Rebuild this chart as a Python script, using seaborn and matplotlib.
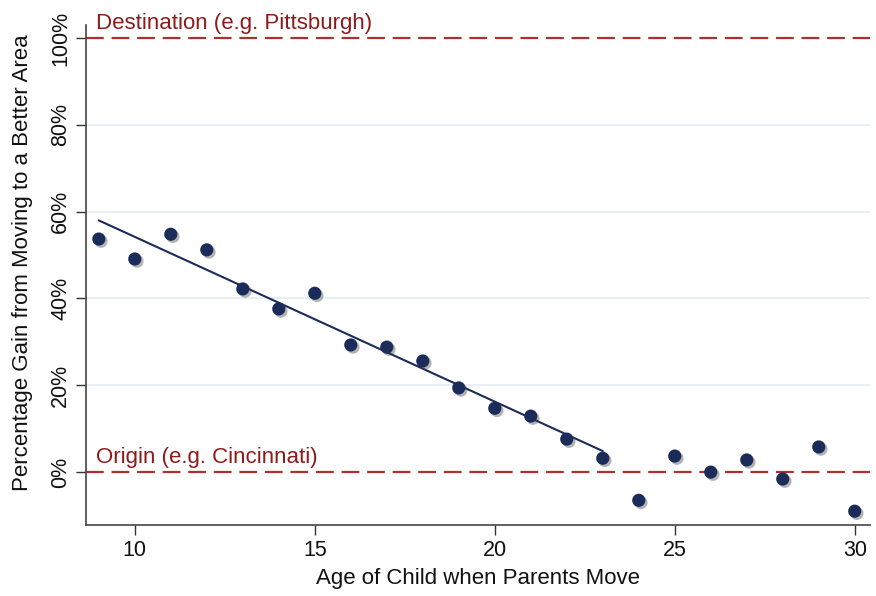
import matplotlib
matplotlib.use("Agg")
import matplotlib.pyplot as plt
import matplotlib.patheffects as pe
import seaborn as sns
import pandas as pd
from matplotlib.ticker import FuncFormatter

ages = [9, 10, 11, 12, 13, 14, 15, 16, 17, 18, 19, 20, 21, 22, 23, 24, 25, 26, 27, 28, 29, 30]
gains = [53.7, 49.1, 54.8, 51.2, 42.2, 37.6, 41.2, 29.3, 28.8, 25.6, 19.4, 14.7, 12.9, 7.6, 3.2,
         -6.5, 3.7, 0.0, 2.8, -1.6, 5.8, -9.0]
fit_max_age = 23
x_ticks = [10, 15, 20, 25, 30]
y_ticks = [0, 20, 40, 60, 80, 100]
ref_levels = [100, 0]
ref_labels = ["Destination (e.g. Pittsburgh)", "Origin (e.g. Cincinnati)"]

df = pd.DataFrame({"age": ages, "gain": gains})
fit_df = df[df["age"] <= fit_max_age]

sns.set_theme(style="white")
plt.rcParams["font.family"] = ["Liberation Sans", "DejaVu Sans"]

navy = "#1b2c5a"
red = "#a8322d"
txt_red = "#8e1b1b"

fig = plt.figure(figsize=(8.76, 5.96), dpi=100)
ax = fig.add_axes([0.098, 0.119, 0.895, 0.839])

for yv in [20, 40, 60, 80]:
    ax.axhline(yv, color="#e3eff3", lw=1.2, zorder=0)

for lvl, lab in zip(ref_levels, ref_labels):
    ax.axhline(lvl, color=red, lw=1.6, dashes=(8, 3.5), zorder=1)
    ax.text(8.92, lvl + 0.9, lab, color=txt_red, fontsize=16, ha="left", va="bottom")

sns.regplot(data=fit_df, x="age", y="gain", scatter=False, ci=None, ax=ax,
            line_kws={"color": navy, "lw": 1.5, "zorder": 2})

sns.scatterplot(data=df, x="age", y="gain", ax=ax, color=navy, s=90, edgecolor="none",
                zorder=3)
for coll in ax.collections:
    coll.set_path_effects([pe.SimplePatchShadow(offset=(1.6, -1.6), shadow_rgbFace="#444444", alpha=0.4),
                           pe.Normal()])

ax.set_xlim(8.64, 30.42)
ax.set_ylim(-12.2, 103)
ax.set_xticks(x_ticks)
ax.set_yticks(y_ticks)
ax.yaxis.set_major_formatter(FuncFormatter(lambda v, p: f"{int(v)}%"))
ax.tick_params(axis="both", which="both", direction="out", length=7, width=1.0,
               color="#333333", labelsize=15.5, labelcolor="#111111", left=True, bottom=True)
for lab in ax.get_yticklabels():
    lab.set_rotation(90)
    lab.set_va("center")

for side in ["top", "right"]:
    ax.spines[side].set_visible(False)
for side in ["left", "bottom"]:
    ax.spines[side].set_color("#444444")
    ax.spines[side].set_linewidth(1.2)

ax.set_xlabel("Age of Child when Parents Move", fontsize=16, color="#111111", labelpad=5)
ax.set_ylabel("Percentage Gain from Moving to a Better Area", fontsize=16, color="#111111")
ax.yaxis.set_label_coords(-0.068, 0.524)

fig.savefig("out.png", dpi=100, facecolor="white")
